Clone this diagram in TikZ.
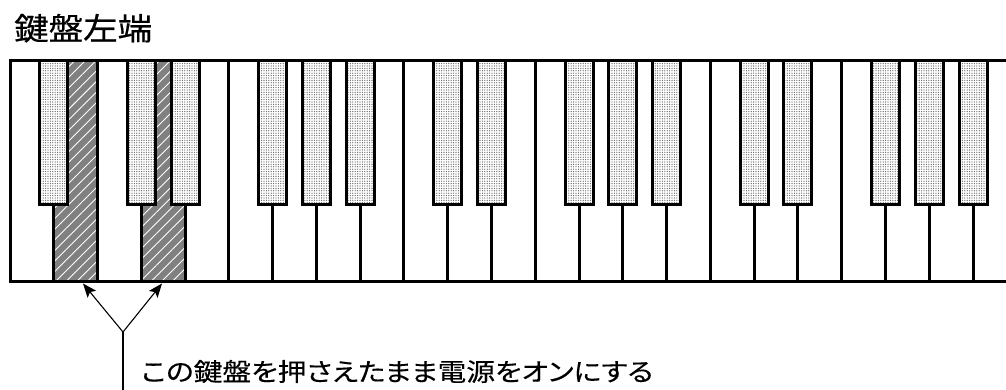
\documentclass[tikz,border=0pt]{standalone}
\usepackage{fontspec}
\usepackage{graphicx}
\newfontfamily\cjk[RawFeature=+palt]{Noto Sans CJK JP}
\newfontfamily\cjktitle[RawFeature=+palt,FakeBold=0.5]{Noto Sans CJK JP}
\newfontfamily\cjknote[RawFeature=+palt,FakeBold=0.25]{Noto Sans CJK JP}
\usetikzlibrary{patterns.meta,arrows.meta}
\definecolor{hatchgray}{HTML}{808080}
\tikzset{
  keyline/.style={line width=3pt, line cap=rect, line join=miter},
  hatchedkey/.style={preaction={fill=hatchgray}, pattern={Lines[angle=45,distance=7.5pt,line width=0.9pt]}, pattern color=white},
  blackkey/.style={preaction={fill=white}, pattern={Dots[distance=2.4pt,radius=0.65pt]}, pattern color=black!60, draw=black, line width=3pt},
  pointer/.style={line width=1.1pt, -{Stealth[length=14pt,width=11pt,inset=3pt]}},
  label/.style={anchor=base west, inner sep=0pt}
}
\begin{document}
\begin{tikzpicture}[x=1pt,y=-1pt]
\useasboundingbox (0,0) rectangle (1006,390);
\fill[white] (0,0) rectangle (1006,390);
\def\kw{43.773}
\def\kl{10}
% pressed (hatched) white keys
\foreach \k in {1,3}
  \path[hatchedkey] ({\kl+\k*\kw},61) rectangle ({\kl+(\k+1)*\kw},281.5);
% black keys
\foreach \k in {1,3,4,6,7,8,10,11,13,14,15,17,18,20,21,22}
  \path[blackkey] ({\kl+\k*\kw-14},61) rectangle ({\kl+\k*\kw+14},205);
% white key dividers below black keys
\foreach \k in {1,3,4,6,7,8,10,11,13,14,15,17,18,20,21,22}
  \draw[keyline] ({\kl+\k*\kw},205) -- ({\kl+\k*\kw},281.5);
% full-height dividers
\foreach \k in {2,5,9,12,16,19}
  \draw[keyline] ({\kl+\k*\kw},61) -- ({\kl+\k*\kw},281.5);
% outer border
\draw[keyline, line cap=butt] (1006,61) -- (\kl,61) -- (\kl,281.5) -- (1006,281.5);
% texts
\node[label] (title) at (14,40) {\resizebox{138pt}{\height}{\fontsize{31}{31}\selectfont\cjktitle 鍵盤左端}};
\node[label] (note) at (141,381) {\resizebox{512pt}{\height}{\fontsize{25}{25}\selectfont\cjknote この鍵盤を押さえたまま電源をオンにする}};
% pointer
\coordinate (j) at (123,332);
\coordinate (ta) at (83,283.5);
\coordinate (tb) at (162,283.5);
\coordinate (foot) at (123,390);
\draw[line width=1.1pt] (foot) -- (j);
\draw[pointer] (j) -- (ta);
\draw[pointer] (j) -- (tb);
\end{tikzpicture}
\end{document}
